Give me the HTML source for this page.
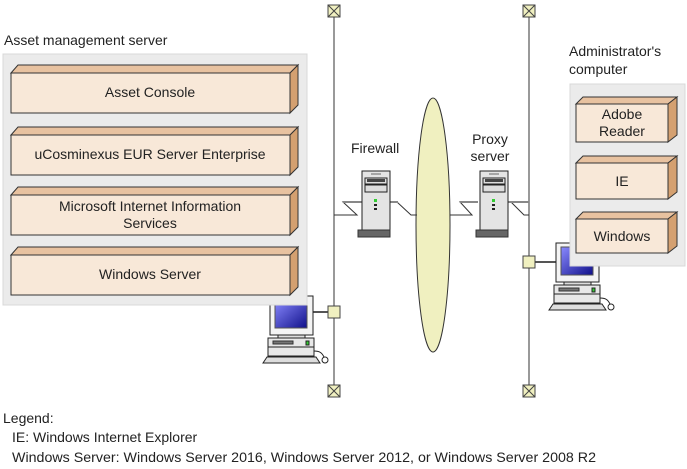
<!DOCTYPE html>
<html><head><meta charset="utf-8"><style>
body{margin:0;background:#fff}
svg{display:block}
text{font-family:"Liberation Sans",Arial,sans-serif;font-size:14px;fill:#222}
</style></head><body>
<svg width="687" height="469" viewBox="0 0 687 469" xmlns="http://www.w3.org/2000/svg">
<defs>
<linearGradient id="scr" x1="0" y1="0" x2="1" y2="1"><stop offset="0" stop-color="#8a8aff"/><stop offset="1" stop-color="#10108a"/></linearGradient>
<g id="term"><rect x="-6" y="-6" width="12" height="12" fill="#f0f0c0" stroke="#444" stroke-width="1"/><path d="M-6,-6L6,6M6,-6L-6,6" stroke="#444" stroke-width="1"/></g>
<g id="srv">
<rect x="0" y="0" width="28" height="59" fill="#e4e4e4" stroke="#222"/>
<line x1="9" y1="3" x2="19" y2="3" stroke="#666"/>
<rect x="3" y="7" width="22" height="6" fill="#ddd" stroke="#222"/>
<rect x="5" y="8" width="18" height="3" fill="#444"/>
<rect x="3" y="14" width="22" height="7" fill="#ddd" stroke="#222"/>
<rect x="12" y="28" width="3" height="3" fill="#3c3"/>
<rect x="12" y="33" width="3" height="2" fill="#222"/>
<rect x="12" y="37" width="3" height="2" fill="#222"/>
<rect x="-4" y="59" width="32" height="7" fill="#666" stroke="#333"/>
</g>
<g id="pc">
<rect x="0" y="0" width="43" height="39" fill="#f4f4f4" stroke="#222"/>
<rect x="5" y="4" width="32" height="28" fill="url(#scr)" stroke="#555"/>
<rect x="8" y="39" width="27" height="3" fill="#ddd" stroke="#222"/>
<rect x="-2" y="42" width="46" height="18" fill="#e8e8e8" stroke="#222"/>
<line x1="-2" y1="51" x2="44" y2="51" stroke="#222"/>
<rect x="3" y="45" width="20" height="3" fill="#777" stroke="#333"/>
<rect x="36" y="45" width="3" height="4" fill="#3c3" stroke="#222"/>
<path d="M-7,67L-3,61H46L50,67Z" fill="#ddd" stroke="#222"/>
<path d="M44,55c6,0 8,2 10,6" fill="none" stroke="#222"/>
<circle cx="55" cy="64" r="3" fill="#fff" stroke="#222"/>
</g>
</defs>

<line x1="334" y1="17" x2="334" y2="386" stroke="#333"/>
<line x1="529" y1="17" x2="529" y2="386" stroke="#333"/>
<use href="#term" x="334" y="11"/>
<use href="#term" x="334" y="391"/>
<use href="#term" x="529" y="11"/>
<use href="#term" x="529" y="391"/>

<ellipse cx="433" cy="225" rx="17" ry="127" fill="#f0f0c0" stroke="#333"/>

<polyline points="334,215 357,215 343,202 362,202" fill="none" stroke="#333"/>
<polyline points="390,202 397,202 411,215 417,215" fill="none" stroke="#333"/>
<polyline points="362,202 343,202" fill="none" stroke="#888" stroke-width="2"/>
<polyline points="390,202 398,202" fill="none" stroke="#888" stroke-width="2"/>
<use href="#srv" x="362" y="171"/>
<text x="351" y="153">Firewall</text>

<polyline points="450,215 472,215 460,202 478,202" fill="none" stroke="#333"/>
<polyline points="507,202 511,202 524,215 529,215" fill="none" stroke="#333"/>
<polyline points="460,202 478,202" fill="none" stroke="#888" stroke-width="2"/>
<polyline points="507,202 529,202" fill="none" stroke="#888" stroke-width="2"/>
<use href="#srv" x="480" y="171"/>
<text x="490" y="144" text-anchor="middle">Proxy</text>
<text x="490" y="161" text-anchor="middle">server</text>

<line x1="313" y1="312" x2="328" y2="312" stroke="#555" stroke-width="2"/>
<use href="#pc" x="270" y="296"/>
<rect x="328" y="306" width="12" height="12" fill="#f0f0c0" stroke="#444"/>
<line x1="535" y1="262" x2="556" y2="262" stroke="#555" stroke-width="2"/>
<use href="#pc" x="556" y="243"/>
<rect x="523" y="256" width="12" height="12" fill="#f0f0c0" stroke="#444"/>

<text x="4" y="45">Asset management server</text>
<rect x="3" y="54" width="304" height="251" fill="#ebebeb" stroke="#d8d8d8"/>
<g stroke="#333" stroke-width="1">
<g>
<path d="M11,73L18,65H298L290,73Z" fill="#e8c2a0"/><path d="M290,73L298,65V105L290,113Z" fill="#d4a070"/><rect x="11" y="73" width="279" height="40" fill="#f8e8d8"/>
</g>
<g transform="translate(0,62)">
<path d="M11,73L18,65H298L290,73Z" fill="#e8c2a0"/><path d="M290,73L298,65V105L290,113Z" fill="#d4a070"/><rect x="11" y="73" width="279" height="40" fill="#f8e8d8"/>
</g>
<g transform="translate(0,122)">
<path d="M11,73L18,65H298L290,73Z" fill="#e8c2a0"/><path d="M290,73L298,65V105L290,113Z" fill="#d4a070"/><rect x="11" y="73" width="279" height="40" fill="#f8e8d8"/>
</g>
<g transform="translate(0,182)">
<path d="M11,73L18,65H298L290,73Z" fill="#e8c2a0"/><path d="M290,73L298,65V105L290,113Z" fill="#d4a070"/><rect x="11" y="73" width="279" height="40" fill="#f8e8d8"/>
</g>
</g>
<text x="150" y="97" text-anchor="middle">Asset Console</text>
<text x="150" y="159" text-anchor="middle">uCosminexus EUR Server Enterprise</text>
<text x="150" y="211" text-anchor="middle">Microsoft Internet Information</text>
<text x="150" y="228" text-anchor="middle">Services</text>
<text x="150" y="279" text-anchor="middle">Windows Server</text>

<text x="569" y="56">Administrator's</text>
<text x="569" y="74">computer</text>
<rect x="570" y="84" width="115" height="182" fill="#ebebeb" stroke="#d8d8d8"/>
<g stroke="#333" stroke-width="1">
<path d="M576,104L583,97H677L668,104Z" fill="#e8c2a0"/><path d="M668,104L677,97V135L668,142Z" fill="#d4a070"/><rect x="576" y="104" width="92" height="38" fill="#f8e8d8"/>
<path d="M576,163L583,156H677L668,163Z" fill="#e8c2a0"/><path d="M668,163L677,156V192L668,199Z" fill="#d4a070"/><rect x="576" y="163" width="92" height="36" fill="#f8e8d8"/>
<path d="M576,219L583,212H677L668,219Z" fill="#e8c2a0"/><path d="M668,219L677,212V246L668,253Z" fill="#d4a070"/><rect x="576" y="219" width="92" height="34" fill="#f8e8d8"/>
</g>
<text x="622" y="119" text-anchor="middle">Adobe</text>
<text x="622" y="136" text-anchor="middle">Reader</text>
<text x="622" y="186" text-anchor="middle">IE</text>
<text x="622" y="241" text-anchor="middle">Windows</text>

<text x="3" y="423">Legend:</text>
<text x="12" y="442">IE: Windows Internet Explorer</text>
<text x="12" y="462" textLength="584" lengthAdjust="spacingAndGlyphs">Windows Server: Windows Server 2016, Windows Server 2012, or Windows Server 2008 R2</text>
</svg>
</body></html>
